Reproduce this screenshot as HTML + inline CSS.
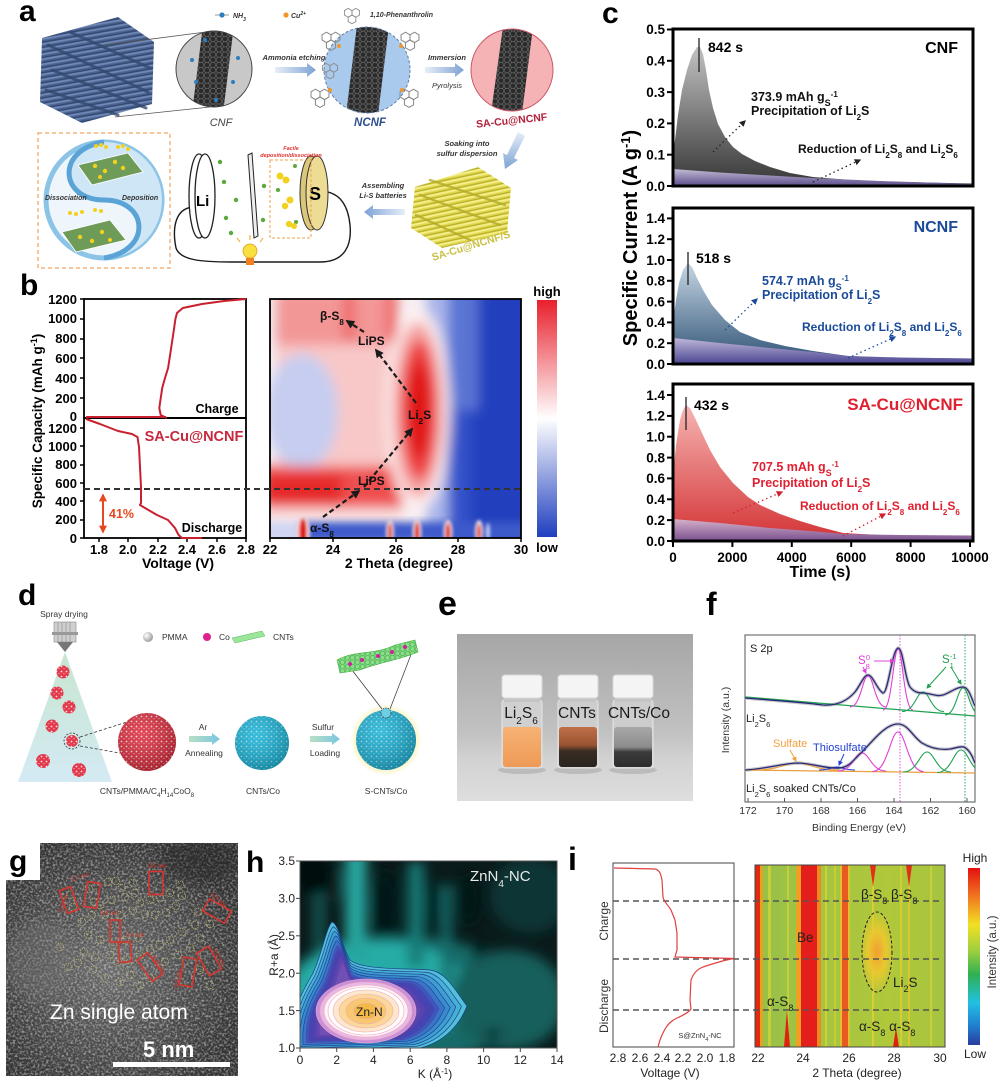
<!DOCTYPE html>
<html><head><meta charset="utf-8"><style>
html,body{margin:0;padding:0;background:#fff;overflow:hidden}
svg{display:block}
text{font-family:"Liberation Sans",Arial,sans-serif}
</style></head><body>
<svg xmlns="http://www.w3.org/2000/svg" width="999" height="1083" viewBox="0 0 999 1083">
<defs>
 <linearGradient id="gArr" x1="0" y1="0" x2="1" y2="0"><stop offset="0" stop-color="#e6eef8"/><stop offset="1" stop-color="#7ea2d4"/></linearGradient>
 <linearGradient id="gArrL" x1="1" y1="0" x2="0" y2="0"><stop offset="0" stop-color="#e6eef8"/><stop offset="1" stop-color="#7ea2d4"/></linearGradient>
 <linearGradient id="gArrD" x1="0" y1="0" x2="0" y2="1"><stop offset="0" stop-color="#e6eef8"/><stop offset="1" stop-color="#7ea2d4"/></linearGradient>
 <linearGradient id="gArrGB" x1="0" y1="0" x2="1" y2="0"><stop offset="0" stop-color="#b8dfc2"/><stop offset="1" stop-color="#7cc6e2"/></linearGradient>
 <pattern id="hex" width="6" height="5.2" patternUnits="userSpaceOnUse"><path d="M0,2.6 L1.5,0 L4.5,0 L6,2.6 L4.5,5.2 L1.5,5.2 Z" fill="none" stroke="#707070" stroke-width="0.6"/></pattern>
 <pattern id="hexG" width="5" height="4.4" patternUnits="userSpaceOnUse"><path d="M0,2.2 L1.25,0 L3.75,0 L5,2.2 L3.75,4.4 L1.25,4.4 Z" fill="none" stroke="#3f9f3f" stroke-width="0.5"/></pattern>
 <pattern id="fibB" width="12" height="5" patternUnits="userSpaceOnUse" patternTransform="rotate(-10)"><rect width="12" height="5" fill="#4b6391"/><rect y="0" width="12" height="1.7" fill="#7089b7"/><rect y="3.3" width="12" height="1.2" fill="#33486f"/></pattern>
 <pattern id="fibY" width="12" height="5" patternUnits="userSpaceOnUse" patternTransform="rotate(-12)"><rect width="12" height="5" fill="#e0d84e"/><rect y="0" width="12" height="1.7" fill="#f5f08e"/><rect y="3.3" width="12" height="1.2" fill="#b8ae2c"/></pattern>
 <pattern id="spk" width="5" height="5" patternUnits="userSpaceOnUse"><circle cx="1.5" cy="1.5" r="0.9" fill="#fff" opacity=".85"/><circle cx="4" cy="3.6" r="0.6" fill="#fff" opacity=".6"/></pattern>
 <radialGradient id="shade" cx="0.4" cy="0.35" r="0.7"><stop offset="0" stop-color="#fff" stop-opacity="0.15"/><stop offset="1" stop-color="#000" stop-opacity="0.25"/></radialGradient>
 <radialGradient id="glow" cx="0.5" cy="0.5" r="0.5"><stop offset="0.75" stop-color="#f8f0b0"/><stop offset="1" stop-color="#f8f0b0" stop-opacity="0"/></radialGradient>
 <radialGradient id="pmma" cx="0.35" cy="0.35" r="0.7"><stop offset="0" stop-color="#fff"/><stop offset="1" stop-color="#999"/></radialGradient>
 <linearGradient id="gTri" x1="0" y1="0" x2="0" y2="1"><stop offset="0" stop-color="#c6e6cf"/><stop offset="1" stop-color="#d4eaf4"/></linearGradient>
 <clipPath id="cCNF"><circle cx="214" cy="69" r="38"/></clipPath>
 <clipPath id="cNCNF"><circle cx="367" cy="70" r="43"/></clipPath>
 <clipPath id="cSA"><circle cx="512" cy="70" r="41"/></clipPath>
 <clipPath id="cHB"><rect x="270" y="299" width="251" height="239"/></clipPath>
 <clipPath id="cH"><rect x="300" y="861" width="257" height="187"/></clipPath>
 <clipPath id="cI"><rect x="755" y="865" width="190" height="182"/></clipPath>
 <clipPath id="cG"><rect x="6" y="843" width="232" height="233"/></clipPath>
 <clipPath id="cE"><rect x="457" y="634" width="236" height="167"/></clipPath>
 <clipPath id="cF"><rect x="745" y="635" width="230" height="167"/></clipPath>
 <filter id="bl6" x="-30%" y="-30%" width="160%" height="160%"><feGaussianBlur stdDeviation="6"/></filter>
 <filter id="bl4" x="-30%" y="-30%" width="160%" height="160%"><feGaussianBlur stdDeviation="4"/></filter>
 <filter id="bl2" x="-50%" y="-50%" width="200%" height="200%"><feGaussianBlur stdDeviation="1.5"/></filter>
 <filter id="grain" x="0" y="0" width="1" height="1"><feTurbulence type="fractalNoise" baseFrequency="0.45" numOctaves="2" seed="7"/><feColorMatrix type="matrix" values="0 0 0 0 1  0 0 0 0 1  0 0 0 0 1  3 0 0 0 -1.3"/></filter>
 <g id="phen" fill="none" stroke="#8a8a8a" stroke-width="0.8">
  <path d="M-6.9,-4 L-3.5,-6 L0,-4 L0,0 L-3.5,2 L-6.9,0 Z"/>
  <path d="M0,-4 L3.5,-6 L6.9,-4 L6.9,0 L3.5,2 L0,0 Z"/>
  <path d="M-3.5,2 L0,0 L3.5,2 L3.5,6 L0,8 L-3.5,6 Z"/>
 </g>
 <path id="blobP" d="M290,1052 L290,1050 C288,1020 300,995 312,975 C322,955 326,928 332,922 C339,924 341,945 350,960 C362,970 400,968 430,970 C446,972 455,990 467,1006 C460,1024 445,1042 420,1048 L290,1052 Z"/>
 <marker id="mk" viewBox="0 0 10 10" refX="8" refY="5" markerWidth="4" markerHeight="4" orient="auto"><path d="M0,0 L10,5 L0,10 Z" fill="#1a1a1a"/></marker>
 <marker id="mkB" viewBox="0 0 10 10" refX="8" refY="5" markerWidth="5" markerHeight="5" orient="auto"><path d="M0,0 L10,5 L0,10 Z" fill="#1a4a9a"/></marker>
 <marker id="mkR" viewBox="0 0 10 10" refX="8" refY="5" markerWidth="5" markerHeight="5" orient="auto"><path d="M0,0 L10,5 L0,10 Z" fill="#d02030"/></marker>
 <marker id="mkK" viewBox="0 0 10 10" refX="8" refY="5" markerWidth="5" markerHeight="5" orient="auto"><path d="M0,0 L10,5 L0,10 Z" fill="#222"/></marker>
 <marker id="mkO" viewBox="0 0 10 10" refX="8" refY="5" markerWidth="4" markerHeight="4" orient="auto-start-reverse"><path d="M0,0 L10,5 L0,10 Z" fill="#e84820"/></marker>
 <marker id="mkM" viewBox="0 0 10 10" refX="8" refY="5" markerWidth="5" markerHeight="5" orient="auto"><path d="M0,0 L10,5 L0,10 Z" fill="#e040d8"/></marker>
 <marker id="mkG" viewBox="0 0 10 10" refX="8" refY="5" markerWidth="5" markerHeight="5" orient="auto"><path d="M0,0 L10,5 L0,10 Z" fill="#20a050"/></marker>
 <marker id="mkOr" viewBox="0 0 10 10" refX="8" refY="5" markerWidth="5" markerHeight="5" orient="auto"><path d="M0,0 L10,5 L0,10 Z" fill="#f0a040"/></marker>
 <marker id="mkBl" viewBox="0 0 10 10" refX="8" refY="5" markerWidth="5" markerHeight="5" orient="auto"><path d="M0,0 L10,5 L0,10 Z" fill="#2040d0"/></marker>
 <linearGradient id="gCNF" gradientUnits="userSpaceOnUse" x1="0" y1="45" x2="0" y2="180"><stop offset="0" stop-color="#c4c4c4"/><stop offset="1" stop-color="#3c3c3c"/></linearGradient>
 <linearGradient id="gCNFb" gradientUnits="userSpaceOnUse" x1="0" y1="168" x2="0" y2="186"><stop offset="0" stop-color="#cac2da"/><stop offset="1" stop-color="#5a4c8a"/></linearGradient>
 <linearGradient id="gNC" gradientUnits="userSpaceOnUse" x1="0" y1="262" x2="0" y2="356"><stop offset="0" stop-color="#c8d8e4"/><stop offset="1" stop-color="#3a5c7e"/></linearGradient>
 <linearGradient id="gNCb" gradientUnits="userSpaceOnUse" x1="0" y1="337" x2="0" y2="364"><stop offset="0" stop-color="#c4bcdc"/><stop offset="1" stop-color="#4a4592"/></linearGradient>
 <linearGradient id="gSA" gradientUnits="userSpaceOnUse" x1="0" y1="404" x2="0" y2="532"><stop offset="0" stop-color="#f6b6b4"/><stop offset="1" stop-color="#d63c3e"/></linearGradient>
 <linearGradient id="gSAb" gradientUnits="userSpaceOnUse" x1="0" y1="518" x2="0" y2="541"><stop offset="0" stop-color="#dab6cc"/><stop offset="1" stop-color="#7a5090"/></linearGradient>
 <linearGradient id="gCbB" x1="0" y1="0" x2="0" y2="1"><stop offset="0" stop-color="#e8202c"/><stop offset="0.5" stop-color="#ffffff"/><stop offset="1" stop-color="#1f3fbf"/></linearGradient>
 <linearGradient id="gJet" x1="0" y1="0" x2="0" y2="1"><stop offset="0" stop-color="#e41010"/><stop offset="0.15" stop-color="#f07020"/><stop offset="0.32" stop-color="#f2e022"/><stop offset="0.47" stop-color="#9ccf40"/><stop offset="0.6" stop-color="#30b050"/><stop offset="0.76" stop-color="#22c0e2"/><stop offset="0.89" stop-color="#2080d0"/><stop offset="1" stop-color="#2a3c9e"/></linearGradient>
 <linearGradient id="gIbg" x1="0" y1="0" x2="1" y2="0"><stop offset="0" stop-color="#96c048"/><stop offset="0.3" stop-color="#a2c444"/><stop offset="0.7" stop-color="#b0c83a"/><stop offset="1" stop-color="#a6c440"/></linearGradient>
 <radialGradient id="gLi2S" cx="0.5" cy="0.5" r="0.5"><stop offset="0" stop-color="#f0a030"/><stop offset="0.5" stop-color="#e8c830"/><stop offset="1" stop-color="#e8c830" stop-opacity="0"/></radialGradient>
 <linearGradient id="gPhoto" x1="0" y1="0" x2="0" y2="1"><stop offset="0" stop-color="#a6a6a6"/><stop offset="0.6" stop-color="#c2c2c2"/><stop offset="0.75" stop-color="#d2d2d2"/><stop offset="1" stop-color="#dedede"/></linearGradient>
 <linearGradient id="gLiq2" x1="0" y1="0" x2="0" y2="1"><stop offset="0" stop-color="#c07048"/><stop offset="0.45" stop-color="#9a5432"/><stop offset="0.6" stop-color="#3a2c24"/><stop offset="1" stop-color="#2a2420"/></linearGradient>
 <linearGradient id="gLiq3" x1="0" y1="0" x2="0" y2="1"><stop offset="0" stop-color="#a8a8a8"/><stop offset="0.5" stop-color="#8c8c8c"/><stop offset="0.62" stop-color="#3c3c3c"/><stop offset="1" stop-color="#2c2c2c"/></linearGradient>
 <linearGradient id="gLiq1" x1="0" y1="0" x2="0" y2="1"><stop offset="0" stop-color="#f6b274"/><stop offset="1" stop-color="#ee9a56"/></linearGradient>
 <radialGradient id="gGimg" cx="0.45" cy="0.55" r="0.6"><stop offset="0" stop-color="#6a6a6a"/><stop offset="1" stop-color="#333"/></radialGradient>
</defs>

<rect width="999" height="1083" fill="#fff"/>

<!-- ================= PANEL A ================= -->
<text x="19" y="21" font-size="30" font-weight="bold">a</text>
<line x1="215" y1="15" x2="229" y2="15" stroke="#bbb" stroke-width="1.5"/>
<circle cx="222" cy="15" r="2.6" fill="#2c7fc0"/>
<text x="233" y="18" font-size="7" font-weight="bold" font-style="italic" fill="#333">NH<tspan font-size="5" baseline-shift="sub">3</tspan></text>
<circle cx="286" cy="15" r="2.6" fill="#f0962a"/>
<text x="291" y="18" font-size="7" font-weight="bold" font-style="italic" fill="#333">Cu<tspan font-size="5" baseline-shift="super">2+</tspan></text>
<use href="#phen" transform="translate(352,15) scale(1.1)"/>
<text x="370" y="17" font-size="7" font-weight="bold" font-style="italic" fill="#333">1,10-Phenanthrolin</text>

<polygon points="42,38 118,17 154,42 152,104 82,123 40,102" fill="url(#fibB)"/>
<g stroke="#34496f" stroke-width="3" stroke-linecap="round" opacity="0.8">
 <line x1="48" y1="45" x2="148" y2="92"/><line x1="52" y1="70" x2="146" y2="108"/><line x1="70" y1="32" x2="150" y2="68"/><line x1="46" y1="90" x2="118" y2="115"/>
</g>
<line x1="105" y1="45" x2="206" y2="32" stroke="#555" stroke-width="0.8"/>
<line x1="115" y1="117" x2="210" y2="107" stroke="#555" stroke-width="0.8"/>

<circle cx="214" cy="69" r="38" fill="#c8c8c8"/>
<g clip-path="url(#cCNF)"><polygon points="203,25 234,25 223,113 192,113" fill="#2a2a2a"/><polygon points="203,25 234,25 223,113 192,113" fill="url(#hex)"/></g>
<circle cx="214" cy="69" r="38" fill="none" stroke="#444" stroke-width="1"/>
<g fill="#2c7fc0"><circle cx="205" cy="40" r="2"/><circle cx="192" cy="60" r="2"/><circle cx="238" cy="58" r="2"/><circle cx="196" cy="82" r="2"/><circle cx="233" cy="82" r="2"/><circle cx="216" cy="100" r="2"/></g>
<text x="221" y="126" font-size="11" font-style="italic" fill="#444" text-anchor="middle">CNF</text>

<path d="M275,67 L307,67 L307,63 L316,70 L307,77 L307,73 L275,73 Z" fill="url(#gArr)"/>
<text x="294" y="60" font-size="7.5" font-weight="bold" font-style="italic" fill="#333" text-anchor="middle">Ammonia etching</text>

<circle cx="367" cy="70" r="43" fill="#a9caec"/>
<g clip-path="url(#cNCNF)"><polygon points="357,25 389,25 378,115 346,115" fill="#2a2a2a"/><polygon points="357,25 389,25 378,115 346,115" fill="url(#hex)"/></g>
<circle cx="367" cy="70" r="43" fill="none" stroke="#5f7fa8" stroke-width="1" stroke-dasharray="3,2"/>
<use href="#phen" transform="translate(331,40) scale(1.3)"/>
<use href="#phen" transform="translate(320,97) scale(1.3)"/>
<use href="#phen" transform="translate(410,40) scale(1.3)"/>
<use href="#phen" transform="translate(409,97) scale(1.3)"/>
<use href="#phen" transform="translate(330,70) scale(1.1)"/>
<g fill="#f0962a"><circle cx="339" cy="46" r="2"/><circle cx="330" cy="90" r="2"/><circle cx="401" cy="46" r="2"/><circle cx="402" cy="90" r="2"/></g>
<text x="370" y="126" font-size="11.5" font-weight="bold" font-style="italic" fill="#2f4f8f" text-anchor="middle">NCNF</text>

<path d="M425,67 L455,67 L455,63 L464,70 L455,77 L455,73 L425,73 Z" fill="url(#gArr)"/>
<text x="447" y="60" font-size="7.5" font-weight="bold" font-style="italic" fill="#333" text-anchor="middle">Immersion</text>
<text x="447" y="88" font-size="7.5" font-style="italic" fill="#333" text-anchor="middle">Pyrolysis</text>

<circle cx="512" cy="70" r="41" fill="#f6b3b5"/>
<g clip-path="url(#cSA)"><polygon points="503,27 533,27 522,113 491,113" fill="#2a2a2a"/><polygon points="503,27 533,27 522,113 491,113" fill="url(#hex)"/></g>
<circle cx="512" cy="70" r="41" fill="none" stroke="#cc5a6a" stroke-width="1"/>
<text transform="translate(512,124) rotate(-6)" font-size="10.5" font-weight="bold" fill="#b3203b" text-anchor="middle">SA-Cu@NCNF</text>

<path d="M518,132 L525,136 L514,158 L518,160 L505,169 L503,153 L507,155 Z" fill="url(#gArrD)"/>
<text x="467" y="146" font-size="7.5" font-weight="bold" font-style="italic" fill="#333" text-anchor="middle">Soaking into</text>
<text x="467" y="156" font-size="7.5" font-weight="bold" font-style="italic" fill="#333" text-anchor="middle">sulfur dispersion</text>

<polygon points="415,187 478,167 511,188 507,233 442,248 411,228" fill="url(#fibY)"/>
<g stroke="#b5ab2a" stroke-width="2.5" stroke-linecap="round" opacity="0.8"><line x1="420" y1="195" x2="500" y2="225"/><line x1="430" y1="180" x2="505" y2="205"/><line x1="416" y1="215" x2="470" y2="240"/></g>
<text transform="translate(472,249) rotate(-17)" font-size="10.5" font-weight="bold" fill="#c9c043" text-anchor="middle">SA-Cu@NCNF/S</text>

<path d="M405,209 L373,209 L373,205 L364,212 L373,219 L373,215 L405,215 Z" fill="url(#gArrL)"/>
<text x="383" y="188" font-size="7.5" font-weight="bold" font-style="italic" fill="#333" text-anchor="middle">Assembling</text>
<text x="383" y="198" font-size="7.5" font-weight="bold" font-style="italic" fill="#333" text-anchor="middle">Li-S batteries</text>

<path d="M195,207 C175,207 172,228 176,248 C180,260 200,262 232,262 L320,262 C345,262 352,245 350,225 C348,205 340,195 328,192" fill="none" stroke="#1a1a1a" stroke-width="1.4"/>
<ellipse cx="199" cy="196" rx="10" ry="42" fill="#fff" stroke="#222" stroke-width="1.3"/>
<ellipse cx="205" cy="196" rx="10" ry="42" fill="#fff" stroke="#222" stroke-width="1.3"/>
<text x="196" y="206" font-size="15" font-weight="bold">Li</text>
<polygon points="248,155 252,153 258,236 254,238" fill="#eee" stroke="#222" stroke-width="1"/>
<ellipse cx="311" cy="193" rx="11" ry="37" fill="#d9c77a" stroke="#333" stroke-width="1"/>
<ellipse cx="317" cy="193" rx="11" ry="37" fill="#ecdc94" stroke="#333" stroke-width="1"/>
<text x="309" y="200" font-size="18" font-weight="bold">S</text>
<rect x="270" y="160" width="41" height="78" fill="none" stroke="#f0a050" stroke-width="1" stroke-dasharray="3,2"/>
<text x="291" y="150" font-size="5.5" font-style="italic" font-weight="bold" fill="#e03030" text-anchor="middle">Facile</text>
<text x="291" y="157" font-size="5.5" font-style="italic" font-weight="bold" fill="#e03030" text-anchor="middle">deposition/dissociation</text>
<g fill="#5aa83a"><circle cx="220" cy="162" r="2.2"/><circle cx="224" cy="182" r="2.2"/><circle cx="236" cy="200" r="2.2"/><circle cx="226" cy="218" r="2.2"/><circle cx="231" cy="233" r="2.2"/><circle cx="264" cy="186" r="2.2"/><circle cx="263" cy="220" r="2.2"/><circle cx="295" cy="166" r="2"/><circle cx="278" cy="190" r="2"/><circle cx="296" cy="222" r="2"/></g>
<g fill="#f2d020"><circle cx="280" cy="176" r="3.5"/><circle cx="286" cy="180" r="3.5"/><circle cx="290" cy="200" r="3.5"/><circle cx="285" cy="206" r="3.2"/><circle cx="289" cy="224" r="3.2"/><circle cx="294" cy="226" r="3"/></g>
<circle cx="250" cy="251" r="7" fill="#f8e040" stroke="#e0a020" stroke-width="0.8"/>
<rect x="246" y="258" width="8" height="7" fill="#f08020"/>
<g stroke="#f0a020" stroke-width="1"><line x1="240" y1="242" x2="237" y2="238"/><line x1="260" y1="242" x2="263" y2="238"/><line x1="250" y1="240" x2="250" y2="235"/></g>

<rect x="38" y="133" width="132" height="135" fill="none" stroke="#f0a45a" stroke-width="1.2" stroke-dasharray="4,3"/>
<circle cx="104" cy="200" r="58" fill="#eef6fc" stroke="#8cc4e8" stroke-width="5"/>
<path d="M104,142 A58,58 0 0,1 104,258 C153,250 148,200 104,200 C60,200 55,150 104,142 Z" fill="#cfe6f6"/>
<path d="M104,142 C55,150 60,200 104,200 C148,200 153,250 104,258" fill="none" stroke="#5aa3d6" stroke-width="5"/>
<polygon points="78,165 128,153 143,172 92,185" fill="#6e9b58" stroke="#fff" stroke-width="0.8"/>
<polygon points="62,232 110,220 126,240 76,252" fill="#6e9b58" stroke="#fff" stroke-width="0.8"/>
<g fill="#f2d020"><circle cx="95" cy="166" r="2.2"/><circle cx="105" cy="171" r="2.2"/><circle cx="115" cy="162" r="2.2"/><circle cx="123" cy="168" r="2.2"/><circle cx="100" cy="177" r="2"/><circle cx="80" cy="237" r="2.2"/><circle cx="92" cy="241" r="2.2"/><circle cx="102" cy="232" r="2.2"/><circle cx="110" cy="240" r="2"/><circle cx="96" cy="146" r="2"/><circle cx="101" cy="145" r="2"/><circle cx="106" cy="147" r="2"/><circle cx="118" cy="147" r="2"/><circle cx="123" cy="146" r="2"/><circle cx="128" cy="149" r="2"/><circle cx="70" cy="213" r="2"/><circle cx="76" cy="214" r="2"/><circle cx="82" cy="212" r="2"/><circle cx="95" cy="210" r="2"/><circle cx="101" cy="211" r="2"/></g>
<text x="45" y="200" font-size="7" font-weight="bold" font-style="italic" fill="#333">Dissociation</text>
<text x="122" y="200" font-size="7" font-weight="bold" font-style="italic" fill="#333">Deposition</text>

<!-- ================= PANEL B ================= -->
<text x="20" y="295" font-size="30" font-weight="bold">b</text>
<rect x="84" y="299" width="162" height="239" fill="#fff" stroke="#000" stroke-width="1.8"/>
<line x1="84" y1="418" x2="246" y2="418" stroke="#000" stroke-width="2"/>
<g font-size="13" font-weight="bold" text-anchor="end">
 <text x="77" y="304">1200</text><text x="77" y="323">1000</text><text x="77" y="343">800</text><text x="77" y="363">600</text><text x="77" y="383">400</text><text x="77" y="403">200</text><text x="77" y="421">0</text>
 <text x="77" y="433">1200</text><text x="77" y="451">1000</text><text x="77" y="469">800</text><text x="77" y="488">600</text><text x="77" y="506">400</text><text x="77" y="524">200</text><text x="77" y="543">0</text>
</g>
<g stroke="#000" stroke-width="1.5">
 <line x1="80" y1="299" x2="84" y2="299"/><line x1="80" y1="319" x2="84" y2="319"/><line x1="80" y1="339" x2="84" y2="339"/><line x1="80" y1="358" x2="84" y2="358"/><line x1="80" y1="378" x2="84" y2="378"/><line x1="80" y1="398" x2="84" y2="398"/>
 <line x1="80" y1="428" x2="84" y2="428"/><line x1="80" y1="446" x2="84" y2="446"/><line x1="80" y1="465" x2="84" y2="465"/><line x1="80" y1="483" x2="84" y2="483"/><line x1="80" y1="501" x2="84" y2="501"/><line x1="80" y1="520" x2="84" y2="520"/><line x1="80" y1="538" x2="84" y2="538"/>
 <line x1="99" y1="538" x2="99" y2="542"/><line x1="128" y1="538" x2="128" y2="542"/><line x1="158" y1="538" x2="158" y2="542"/><line x1="187" y1="538" x2="187" y2="542"/><line x1="217" y1="538" x2="217" y2="542"/><line x1="246" y1="538" x2="246" y2="542"/>
</g>
<g font-size="13" font-weight="bold" text-anchor="middle">
 <text x="99" y="554">1.8</text><text x="128" y="554">2.0</text><text x="158" y="554">2.2</text><text x="187" y="554">2.4</text><text x="217" y="554">2.6</text><text x="246" y="554">2.8</text>
</g>
<text x="178" y="568" font-size="14" font-weight="bold" text-anchor="middle">Voltage (V)</text>
<text transform="translate(42,421) rotate(-90)" font-size="13.5" font-weight="bold" text-anchor="middle">Specific Capacity (mAh g<tspan font-size="9" baseline-shift="super">-1</tspan>)</text>
<line x1="86" y1="417" x2="166" y2="417" stroke="#c8202e" stroke-width="2"/>
<polyline points="166.6,418 160.7,415 159.3,408 162.2,388 165,378 168.1,368 171,349 174,329 175.4,319 177,313 182.8,308 202,304 224,301 246,299" fill="none" stroke="#c8202e" stroke-width="2" stroke-linejoin="round"/>
<polyline points="86,419 100,424 118,431 132,434 137.5,437 139,447 141,487 141,503 140,505 145,508 157,515 168,520 175,528 178.6,535 182,538 202,538" fill="none" stroke="#c8202e" stroke-width="2" stroke-linejoin="round"/>
<text x="217" y="413" font-size="12.5" font-weight="bold" text-anchor="middle">Charge</text>
<text x="212" y="532" font-size="12.5" font-weight="bold" text-anchor="middle">Discharge</text>
<text x="194" y="441" font-size="14.5" font-weight="bold" fill="#c8283c" text-anchor="middle">SA-Cu@NCNF</text>
<line x1="103" y1="495" x2="103" y2="532" stroke="#e84820" stroke-width="2" marker-start="url(#mkO)" marker-end="url(#mkO)"/>
<text x="109" y="518" font-size="12.5" font-weight="bold" fill="#e84820">41%</text>

<g clip-path="url(#cHB)">
 <rect x="270" y="299" width="251" height="239" fill="#f6eef2"/>
 <g filter="url(#bl6)">
  <rect x="440" y="280" width="100" height="280" fill="#3553c9"/>
  <rect x="470" y="280" width="70" height="280" fill="#2441bd"/>
  <rect x="448" y="290" width="30" height="120" fill="#5a74d4"/>
  <rect x="426" y="280" width="22" height="260" fill="#a9b5ea"/>
  <rect x="276" y="290" width="122" height="58" fill="#f39696"/>
  <rect x="344" y="290" width="10" height="50" fill="#ee6060"/>
  <rect x="386" y="290" width="10" height="50" fill="#ee6262"/>
  <rect x="276" y="345" width="122" height="125" fill="#f8c8c8"/>
  <ellipse cx="302" cy="412" rx="36" ry="58" fill="#c6cdf0"/>
  <rect x="262" y="466" width="140" height="44" fill="#ef5050"/>
  <rect x="262" y="474" width="80" height="30" fill="#e62a2a"/>
  <rect x="262" y="508" width="140" height="14" fill="#fadede"/>
  <ellipse cx="418" cy="410" rx="32" ry="102" fill="#fdf0f0"/>
  <ellipse cx="418" cy="410" rx="25" ry="88" fill="#f5a0a0"/>
  <ellipse cx="419" cy="410" rx="18" ry="70" fill="#ee3c3c"/>
  <ellipse cx="419" cy="410" rx="12" ry="48" fill="#e01414"/>
 </g>
 <g filter="url(#bl4)">
  <rect x="262" y="522" width="45" height="20" fill="#d0d6f2"/>
  <rect x="300" y="522" width="230" height="20" fill="#3d5acb"/>
 </g>
 <g filter="url(#bl2)">
  <ellipse cx="303" cy="532" rx="7" ry="16" fill="#fbe0e0"/><ellipse cx="303" cy="532" rx="4" ry="14" fill="#e01818"/>
  <ellipse cx="390" cy="532" rx="4" ry="12" fill="#fbe0e0"/><ellipse cx="390" cy="533" rx="2" ry="10" fill="#e01818"/>
  <ellipse cx="417" cy="532" rx="4.5" ry="13" fill="#fbe0e0"/><ellipse cx="417" cy="533" rx="2.5" ry="11" fill="#e01818"/>
  <ellipse cx="448" cy="532" rx="4.5" ry="12" fill="#fbe0e0"/><ellipse cx="448" cy="533" rx="2.5" ry="10" fill="#e01818"/>
  <ellipse cx="479" cy="532" rx="4" ry="12" fill="#fbe0e0"/><ellipse cx="479" cy="533" rx="2" ry="9" fill="#e01818"/>
  <ellipse cx="488" cy="532" rx="2" ry="9" fill="#c8d0f0"/>
 </g>
</g>
<rect x="270" y="299" width="251" height="239" fill="none" stroke="#000" stroke-width="1.8"/>
<g stroke="#000" stroke-width="1.5">
 <line x1="270" y1="538" x2="270" y2="542"/><line x1="333" y1="538" x2="333" y2="542"/><line x1="396" y1="538" x2="396" y2="542"/><line x1="458" y1="538" x2="458" y2="542"/><line x1="521" y1="538" x2="521" y2="542"/>
</g>
<g font-size="13" font-weight="bold" text-anchor="middle">
 <text x="270" y="554">22</text><text x="333" y="554">24</text><text x="396" y="554">26</text><text x="458" y="554">28</text><text x="521" y="554">30</text>
</g>
<text x="399" y="568" font-size="14" font-weight="bold" text-anchor="middle">2 Theta (degree)</text>
<line x1="84" y1="489" x2="521" y2="489" stroke="#333" stroke-width="2" stroke-dasharray="6,4"/>
<g stroke="#1a1a1a" stroke-width="2.2" stroke-dasharray="5,3" fill="none">
 <line x1="323" y1="517" x2="359" y2="491" marker-end="url(#mk)"/>
 <line x1="364" y1="487" x2="412" y2="429" marker-end="url(#mk)"/>
 <line x1="416" y1="403" x2="376" y2="350" marker-end="url(#mk)"/>
 <line x1="364" y1="332" x2="347" y2="321" marker-end="url(#mk)"/>
</g>
<g font-size="12" font-weight="bold" fill="#111">
 <text x="320" y="320">β-S<tspan font-size="8" baseline-shift="sub">8</tspan></text>
 <text x="358" y="345">LiPS</text>
 <text x="408" y="419">Li<tspan font-size="8" baseline-shift="sub">2</tspan>S</text>
 <text x="358" y="485">LiPS</text>
 <text x="310" y="532">α-S<tspan font-size="8" baseline-shift="sub">8</tspan></text>
</g>
<rect x="537" y="300" width="20" height="237" fill="url(#gCbB)"/>
<text x="547" y="296" font-size="13" font-weight="bold" text-anchor="middle">high</text>
<text x="547" y="552" font-size="13" font-weight="bold" text-anchor="middle">low</text>

<!-- ================= PANEL C ================= -->
<text x="602" y="23" font-size="30" font-weight="bold">c</text>
<text transform="translate(637,238) rotate(-90)" font-size="20" font-weight="bold" text-anchor="middle">Specific Current (A g<tspan font-size="13" baseline-shift="super">-1</tspan>)</text>

<path d="M673,186 L673,155 L675,140 L678,115 L682,90 L687,70 L692,55 L697,47 L700,47 L703,54 L706,70 L709,90 L713,108 L718,124 L725,137 L733,147 L742,154 L755,161 L770,167 L790,173 L813,177 L850,180 L900,182 L973,183.5 L973,186 Z" fill="url(#gCNF)"/>
<path d="M673,186 L673,169 L720,172.5 L770,175.5 L813,178 L880,181 L973,184 L973,186 Z" fill="url(#gCNFb)"/>
<rect x="673" y="29" width="300" height="157" fill="none" stroke="#000" stroke-width="3"/>
<line x1="699" y1="38" x2="699" y2="72" stroke="#222" stroke-width="1.3"/>
<text x="708" y="52" font-size="14" font-weight="bold">842 s</text>
<text x="958" y="53" font-size="16" font-weight="bold" text-anchor="end">CNF</text>
<g font-size="12.5" font-weight="bold" fill="#111">
 <text x="751" y="101">373.9 mAh g<tspan font-size="9" baseline-shift="sub">S</tspan><tspan font-size="8" baseline-shift="super">-1</tspan></text>
 <text x="751" y="115">Precipitation of Li<tspan font-size="8" baseline-shift="sub">2</tspan>S</text>
 <text x="798" y="153" font-size="12">Reduction of Li<tspan font-size="8" baseline-shift="sub">2</tspan>S<tspan font-size="8" baseline-shift="sub">8</tspan> and Li<tspan font-size="8" baseline-shift="sub">2</tspan>S<tspan font-size="8" baseline-shift="sub">6</tspan></text>
</g>
<line x1="713" y1="152" x2="745" y2="121" stroke="#222" stroke-width="1.3" stroke-dasharray="1.5,3" marker-end="url(#mkK)"/>
<line x1="813" y1="182" x2="860" y2="160" stroke="#222" stroke-width="1.3" stroke-dasharray="1.5,3" marker-end="url(#mkK)"/>

<path d="M673,364 L673,322 L676,300 L679,283 L683,270 L688,263 L692,267 L697,278 L703,290 L712,305 L725,320 L740,332 L760,340 L785,346 L813,351 L848,356 L900,358 L973,358.5 L973,364 Z" fill="url(#gNC)"/>
<path d="M673,364 L673,338 L720,343 L770,348 L813,352 L848,356 L900,357.5 L973,358.5 L973,364 Z" fill="url(#gNCb)"/>
<rect x="673" y="208" width="300" height="156" fill="none" stroke="#000" stroke-width="3"/>
<line x1="688" y1="252" x2="688" y2="285" stroke="#222" stroke-width="1.3"/>
<text x="696" y="263" font-size="14" font-weight="bold">518 s</text>
<text x="958" y="232" font-size="16" font-weight="bold" fill="#1a4a9a" text-anchor="end">NCNF</text>
<g font-size="12.5" font-weight="bold" fill="#1a4a9a">
 <text x="762" y="285">574.7 mAh g<tspan font-size="9" baseline-shift="sub">S</tspan><tspan font-size="8" baseline-shift="super">-1</tspan></text>
 <text x="762" y="299">Precipitation of Li<tspan font-size="8" baseline-shift="sub">2</tspan>S</text>
 <text x="802" y="331" font-size="12">Reduction of Li<tspan font-size="8" baseline-shift="sub">2</tspan>S<tspan font-size="8" baseline-shift="sub">8</tspan> and Li<tspan font-size="8" baseline-shift="sub">2</tspan>S<tspan font-size="8" baseline-shift="sub">6</tspan></text>
</g>
<line x1="725" y1="330" x2="757" y2="299" stroke="#1a4a9a" stroke-width="1.3" stroke-dasharray="1.5,3" marker-end="url(#mkB)"/>
<line x1="848" y1="358" x2="895" y2="337" stroke="#1a4a9a" stroke-width="1.3" stroke-dasharray="1.5,3" marker-end="url(#mkB)"/>

<path d="M673,541 L673,477 L676,445 L680,420 L683,410 L686,405 L690,408 L695,418 L702,433 L710,450 L720,467 L733,483 L748,497 L760,505 L780,514 L800,521 L820,527 L843,533 L880,535 L930,536 L973,536.5 L973,541 Z" fill="url(#gSA)"/>
<path d="M673,541 L673,519 L720,523 L770,528 L810,531 L843,534 L900,535 L973,535.5 L973,541 Z" fill="url(#gSAb)"/>
<rect x="673" y="384" width="300" height="157" fill="none" stroke="#000" stroke-width="3"/>
<line x1="686" y1="397" x2="686" y2="430" stroke="#222" stroke-width="1.3"/>
<text x="694" y="410" font-size="14" font-weight="bold">432 s</text>
<text x="963" y="410" font-size="17" font-weight="bold" fill="#e02030" text-anchor="end">SA-Cu@NCNF</text>
<g font-size="12.5" font-weight="bold" fill="#e02030">
 <text x="752" y="471">707.5 mAh g<tspan font-size="9" baseline-shift="sub">S</tspan><tspan font-size="8" baseline-shift="super">-1</tspan></text>
 <text x="752" y="487">Precipitation of Li<tspan font-size="8" baseline-shift="sub">2</tspan>S</text>
 <text x="800" y="510" font-size="12">Reduction of Li<tspan font-size="8" baseline-shift="sub">2</tspan>S<tspan font-size="8" baseline-shift="sub">8</tspan> and Li<tspan font-size="8" baseline-shift="sub">2</tspan>S<tspan font-size="8" baseline-shift="sub">6</tspan></text>
</g>
<line x1="733" y1="513" x2="782" y2="492" stroke="#d02030" stroke-width="1.3" stroke-dasharray="1.5,3" marker-end="url(#mkR)"/>
<line x1="843" y1="536" x2="885" y2="514" stroke="#d02030" stroke-width="1.3" stroke-dasharray="1.5,3" marker-end="url(#mkR)"/>

<g stroke="#000" stroke-width="2">
 <line x1="667" y1="29.5" x2="673" y2="29.5"/><line x1="667" y1="60.8" x2="673" y2="60.8"/><line x1="667" y1="92.1" x2="673" y2="92.1"/><line x1="667" y1="123.4" x2="673" y2="123.4"/><line x1="667" y1="154.7" x2="673" y2="154.7"/><line x1="667" y1="186" x2="673" y2="186"/>
 <line x1="667" y1="218.4" x2="673" y2="218.4"/><line x1="667" y1="239.2" x2="673" y2="239.2"/><line x1="667" y1="260" x2="673" y2="260"/><line x1="667" y1="280.8" x2="673" y2="280.8"/><line x1="667" y1="301.6" x2="673" y2="301.6"/><line x1="667" y1="322.4" x2="673" y2="322.4"/><line x1="667" y1="343.2" x2="673" y2="343.2"/><line x1="667" y1="364" x2="673" y2="364"/>
 <line x1="667" y1="395" x2="673" y2="395"/><line x1="667" y1="415.9" x2="673" y2="415.9"/><line x1="667" y1="436.7" x2="673" y2="436.7"/><line x1="667" y1="457.6" x2="673" y2="457.6"/><line x1="667" y1="478.4" x2="673" y2="478.4"/><line x1="667" y1="499.3" x2="673" y2="499.3"/><line x1="667" y1="520.1" x2="673" y2="520.1"/><line x1="667" y1="541" x2="673" y2="541"/>
 <line x1="732.4" y1="541" x2="732.4" y2="547"/><line x1="791.8" y1="541" x2="791.8" y2="547"/><line x1="851.2" y1="541" x2="851.2" y2="547"/><line x1="910.6" y1="541" x2="910.6" y2="547"/><line x1="970" y1="541" x2="970" y2="547"/><line x1="673" y1="541" x2="673" y2="547"/>
</g>
<g font-size="13.5" font-weight="bold" text-anchor="end">
 <text x="665" y="34">0.5</text><text x="665" y="65.5">0.4</text><text x="665" y="97">0.3</text><text x="665" y="128">0.2</text><text x="665" y="159.5">0.1</text><text x="665" y="191">0.0</text>
 <text x="665" y="223">1.4</text><text x="665" y="244">1.2</text><text x="665" y="265">1.0</text><text x="665" y="285.5">0.8</text><text x="665" y="306.5">0.6</text><text x="665" y="327">0.4</text><text x="665" y="348">0.2</text><text x="665" y="369">0.0</text>
 <text x="665" y="400">1.4</text><text x="665" y="420.5">1.2</text><text x="665" y="441.5">1.0</text><text x="665" y="462.5">0.8</text><text x="665" y="483">0.6</text><text x="665" y="504">0.4</text><text x="665" y="525">0.2</text><text x="665" y="546">0.0</text>
</g>
<g font-size="13.5" font-weight="bold" text-anchor="middle">
 <text x="673" y="562">0</text><text x="732.4" y="562">2000</text><text x="791.8" y="562">4000</text><text x="851.2" y="562">6000</text><text x="910.6" y="562">8000</text><text x="970" y="562">10000</text>
</g>
<text x="820" y="577" font-size="16" font-weight="bold" text-anchor="middle">Time (s)</text>

<!-- ================= PANEL D ================= -->
<text x="18" y="605" font-size="30" font-weight="bold">d</text>
<text x="64" y="617" font-size="8.5" fill="#333" text-anchor="middle">Spray drying</text>
<polygon points="65,652 18,782 112,782" fill="url(#gTri)"/>
<rect x="54" y="622" width="22" height="20" fill="#cfcfcf" stroke="#888" stroke-width="0.6"/>
<g stroke="#999" stroke-width="0.8"><line x1="58" y1="622" x2="58" y2="642"/><line x1="62" y1="622" x2="62" y2="642"/><line x1="66" y1="622" x2="66" y2="642"/><line x1="70" y1="622" x2="70" y2="642"/></g>
<rect x="52" y="632" width="26" height="3" fill="#999"/>
<polygon points="57,642 73,642 65,652" fill="#777"/>
<g>
 <circle cx="63" cy="672" r="6.5" fill="#e23a4c"/><circle cx="57" cy="693" r="6.5" fill="#e23a4c"/><circle cx="69" cy="707" r="6.5" fill="#e23a4c"/><circle cx="52" cy="726" r="6.5" fill="#e23a4c"/><circle cx="72" cy="741" r="6" fill="#e23a4c"/><circle cx="43" cy="761" r="7" fill="#e23a4c"/><circle cx="79" cy="770" r="7" fill="#e23a4c"/>
 <g fill="url(#spk)"><circle cx="63" cy="672" r="6.5"/><circle cx="57" cy="693" r="6.5"/><circle cx="69" cy="707" r="6.5"/><circle cx="52" cy="726" r="6.5"/><circle cx="72" cy="741" r="6"/><circle cx="43" cy="761" r="7"/><circle cx="79" cy="770" r="7"/></g>
</g>
<circle cx="72" cy="741" r="8" fill="none" stroke="#333" stroke-width="0.8" stroke-dasharray="2,1.5"/>
<line x1="80" y1="737" x2="127" y2="722" stroke="#333" stroke-width="0.8" stroke-dasharray="3,2"/>
<line x1="80" y1="746" x2="125" y2="754" stroke="#333" stroke-width="0.8" stroke-dasharray="3,2"/>
<circle cx="148" cy="637" r="5" fill="url(#pmma)"/>
<text x="162" y="640" font-size="8.5" fill="#333">PMMA</text>
<circle cx="207" cy="637" r="4" fill="#e0208c"/>
<text x="219" y="640" font-size="8.5" fill="#333">Co</text>
<polygon points="232,638 262,631 265,636 235,643" fill="#9be69b" stroke="#5cb85c" stroke-width="0.5"/>
<text x="273" y="640" font-size="8.5" fill="#333">CNTs</text>
<circle cx="147" cy="742" r="29" fill="#dc2a3c"/>
<circle cx="147" cy="742" r="29" fill="url(#spk)"/>
<circle cx="147" cy="742" r="29" fill="url(#shade)"/>
<text x="203" y="730" font-size="8.5" fill="#333" text-anchor="middle">Ar</text>
<path d="M189,736 L212,736 L212,733 L220,739 L212,745 L212,742 L189,742 Z" fill="url(#gArrGB)"/>
<text x="204" y="756" font-size="8.5" fill="#333" text-anchor="middle">Annealing</text>
<circle cx="262" cy="743" r="27" fill="#16b2d6"/>
<circle cx="262" cy="743" r="27" fill="url(#spk)" opacity="0.7"/>
<circle cx="262" cy="743" r="27" fill="url(#shade)"/>
<text x="323" y="730" font-size="8.5" fill="#333" text-anchor="middle">Sulfur</text>
<path d="M310,736 L332,736 L332,733 L340,739 L332,745 L332,742 L310,742 Z" fill="url(#gArrGB)"/>
<text x="325" y="756" font-size="8.5" fill="#333" text-anchor="middle">Loading</text>
<circle cx="386" cy="740" r="36" fill="url(#glow)"/>
<circle cx="386" cy="740" r="30" fill="#18b0d4"/>
<circle cx="386" cy="740" r="30" fill="url(#spk)" opacity="0.7"/>
<circle cx="386" cy="740" r="30" fill="url(#shade)"/>
<circle cx="386" cy="713" r="5" fill="#6ccfe4" stroke="#333" stroke-width="0.7" stroke-dasharray="1.5,1"/>
<line x1="352" y1="670" x2="382" y2="709" stroke="#333" stroke-width="0.7"/>
<line x1="412" y1="652" x2="390" y2="709" stroke="#333" stroke-width="0.7"/>
<path d="M337,660 C355,650 375,655 395,645 L415,640 L418,652 C400,660 380,662 360,670 L340,673 Z" fill="#8ae08a" stroke="#4cb04c" stroke-width="0.6"/>
<path d="M337,660 C355,650 375,655 395,645 L415,640 L418,652 C400,660 380,662 360,670 L340,673 Z" fill="url(#hexG)"/>
<g fill="#d020a0"><circle cx="350" cy="664" r="2"/><circle cx="362" cy="660" r="2"/><circle cx="378" cy="656" r="2"/><circle cx="392" cy="652" r="2"/><circle cx="405" cy="647" r="2"/></g>
<g font-size="8.5" fill="#333" text-anchor="middle">
 <text x="147" y="794">CNTs/PMMA/C<tspan font-size="6" baseline-shift="sub">4</tspan>H<tspan font-size="6" baseline-shift="sub">14</tspan>CoO<tspan font-size="6" baseline-shift="sub">8</tspan></text>
 <text x="263" y="794">CNTs/Co</text>
 <text x="386" y="794">S-CNTs/Co</text>
</g>

<!-- ================= PANEL E ================= -->
<text x="438" y="615" font-size="34" font-weight="bold">e</text>
<g clip-path="url(#cE)">
 <rect x="457" y="634" width="236" height="167" fill="url(#gPhoto)"/>
 <ellipse cx="522" cy="770" rx="24" ry="4" fill="#bbb"/><ellipse cx="578" cy="770" rx="24" ry="4" fill="#bbb"/><ellipse cx="633" cy="770" rx="24" ry="4" fill="#bbb"/>
 <rect x="502" y="700" width="40" height="68" rx="3" fill="#d0d0d0" stroke="#e6e6e6"/>
 <rect x="503" y="727" width="38" height="40" rx="3" fill="url(#gLiq1)"/>
 <rect x="504" y="697" width="36" height="5" fill="#c4c4c4"/>
 <rect x="502" y="675" width="40" height="23" rx="3" fill="#f4f4f4" stroke="#d8d8d8"/>
 <rect x="558" y="700" width="40" height="68" rx="3" fill="#cdcdcd" stroke="#e6e6e6"/>
 <rect x="559" y="727" width="38" height="40" rx="3" fill="url(#gLiq2)"/>
 <rect x="560" y="697" width="36" height="5" fill="#c4c4c4"/>
 <rect x="558" y="675" width="40" height="23" rx="3" fill="#f4f4f4" stroke="#d8d8d8"/>
 <rect x="613" y="700" width="40" height="68" rx="3" fill="#cdcdcd" stroke="#e6e6e6"/>
 <rect x="614" y="727" width="38" height="40" rx="3" fill="url(#gLiq3)"/>
 <rect x="615" y="697" width="36" height="5" fill="#c4c4c4"/>
 <rect x="613" y="675" width="40" height="23" rx="3" fill="#f4f4f4" stroke="#d8d8d8"/>
 <g font-size="15.5" fill="#1a1a1a" text-anchor="middle">
  <text x="521" y="718">Li<tspan font-size="10" baseline-shift="sub">2</tspan>S<tspan font-size="10" baseline-shift="sub">6</tspan></text>
  <text x="577" y="718">CNTs</text>
  <text x="639" y="718">CNTs/Co</text>
 </g>
</g>

<!-- ================= PANEL F ================= -->
<text x="706" y="615" font-size="32" font-weight="bold">f</text>
<rect x="745" y="635" width="230" height="167" fill="#fff" stroke="#555" stroke-width="1"/>
<g clip-path="url(#cF)">
 <line x1="900" y1="635" x2="900" y2="802" stroke="#e050e0" stroke-width="1" stroke-dasharray="1.5,1.5"/>
 <line x1="965" y1="635" x2="965" y2="802" stroke="#30a060" stroke-width="1" stroke-dasharray="1.5,1.5"/>
 <path d="M745,698 C770,700 800,702 823,705 C838,706 848,700 855,692 C861,684 864,675 868,675 C873,675 877,690 883,693 C888,694 892,650 898,648 C903,647 905,680 910,687 C914,692 918,693 923,693 C930,693 936,697 943,695 C950,693 956,687 963,687 C969,687 972,700 975,706" fill="none" stroke="#c8c8c8" stroke-width="3.5"/>
 <line x1="745" y1="697" x2="975" y2="716" stroke="#20a050" stroke-width="1.2"/>
 <g fill="none" stroke-width="1.1">
  <path d="M850,707 C860.8,707 862.6,676 868,676 C873.4,676 875.2,707 886,707" stroke="#e040d8"/>
  <path d="M883,710 C892,710 893.5,649 898,649 C902.5,649 904,710 913,710" stroke="#e040d8"/>
  <path d="M902,711.5 C914.6,711.5 916.7,692 923,692 C929.3,692 931.4,711.5 944,711.5" stroke="#20a050"/>
  <path d="M945,715 C955.8,715 957.6,688 963,688 C968.4,688 970.2,715 981,715" stroke="#20a050"/>
 </g>
 <path d="M745,698 C770,700 800,702 823,705 C838,706 848,700 855,692 C861,684 864,675 868,675 C873,675 877,690 883,693 C888,694 892,650 898,648 C903,647 905,680 910,687 C914,692 918,693 923,693 C930,693 936,697 943,695 C950,693 956,687 963,687 C969,687 972,700 975,706" fill="none" stroke="#2a2a7a" stroke-width="1.3"/>
 <path d="M745,770 C765,769 780,764 797,763 C812,763 825,769 840,768 C850,767 855,758 862,752 C872,742 885,724 898,724 C908,724 913,737 922,743 C932,749 942,750 950,749 C956,748 960,746 964,747 C970,750 973,758 975,763" fill="none" stroke="#c8c8c8" stroke-width="3.5"/>
 <line x1="745" y1="770" x2="975" y2="773" stroke="#e8a040" stroke-width="1.2"/>
 <g fill="none" stroke-width="1.1">
  <path d="M755,770 C780.2,770 784.4,763 797,763 C809.6,763 813.8,770 839,770" stroke="#f0a040"/>
  <path d="M819,770 C829.8,770 831.6,767 837,767 C842.4,767 844.2,770 855,770" stroke="#2040d0"/>
  <path d="M838,771 C852.4,771 854.8,753 862,753 C869.2,753 871.6,771 886,771" stroke="#e040d8"/>
  <path d="M872.5,771.5 C887.8,771.5 890.4,732 898,732 C905.6,732 908.2,771.5 923.5,771.5" stroke="#e040d8"/>
  <path d="M903,772 C917.4,772 919.8,752 927,752 C934.2,752 936.6,772 951,772" stroke="#20a050"/>
  <path d="M937,772.5 C951.4,772.5 953.8,750 961,750 C968.2,750 970.6,772.5 985,772.5" stroke="#20a050"/>
 </g>
 <path d="M745,770 C765,769 780,764 797,763 C812,763 825,769 840,768 C850,767 855,758 862,752 C872,742 885,724 898,724 C908,724 913,737 922,743 C932,749 942,750 950,749 C956,748 960,746 964,747 C970,750 973,758 975,763" fill="none" stroke="#2a2a7a" stroke-width="1.3"/>
</g>
<g font-size="11" fill="#222">
 <text x="750" y="652">S 2p</text>
 <text x="746" y="722">Li<tspan font-size="7.5" baseline-shift="sub">2</tspan>S<tspan font-size="7.5" baseline-shift="sub">6</tspan></text>
 <text x="746" y="792">Li<tspan font-size="7.5" baseline-shift="sub">2</tspan>S<tspan font-size="7.5" baseline-shift="sub">6</tspan> soaked CNTs/Co</text>
</g>
<text x="858" y="664" font-size="11.5" fill="#e040d8">S<tspan font-size="7.5" baseline-shift="sub">8</tspan><tspan font-size="7.5" dx="-4" baseline-shift="super">0</tspan></text>
<line x1="874" y1="661" x2="894" y2="661" stroke="#e040d8" stroke-width="1" marker-end="url(#mkM)"/>
<line x1="863" y1="667" x2="866" y2="673" stroke="#e040d8" stroke-width="1" marker-end="url(#mkM)"/>
<text x="942" y="663" font-size="11.5" fill="#20a050">S<tspan font-size="7.5" baseline-shift="sub">1</tspan><tspan font-size="7.5" dx="-4" baseline-shift="super">-1</tspan></text>
<line x1="946" y1="667" x2="927" y2="688" stroke="#20a050" stroke-width="1" marker-end="url(#mkG)"/>
<line x1="951" y1="667" x2="961" y2="684" stroke="#20a050" stroke-width="1" marker-end="url(#mkG)"/>
<text x="773" y="747" font-size="11" fill="#f0a040">Sulfate</text>
<line x1="790" y1="750" x2="796" y2="761" stroke="#f0a040" stroke-width="1" marker-end="url(#mkOr)"/>
<text x="813" y="751" font-size="11" fill="#2040d0">Thiosulfate</text>
<line x1="844" y1="754" x2="839" y2="765" stroke="#2040d0" stroke-width="1" marker-end="url(#mkBl)"/>
<g stroke="#555" stroke-width="1">
 <line x1="748" y1="802" x2="748" y2="798"/><line x1="784.5" y1="802" x2="784.5" y2="798"/><line x1="821" y1="802" x2="821" y2="798"/><line x1="857.5" y1="802" x2="857.5" y2="798"/><line x1="894" y1="802" x2="894" y2="798"/><line x1="930.5" y1="802" x2="930.5" y2="798"/><line x1="967" y1="802" x2="967" y2="798"/>
</g>
<g font-size="10.5" fill="#333" text-anchor="middle">
 <text x="748" y="814">172</text><text x="784.5" y="814">170</text><text x="821" y="814">168</text><text x="857.5" y="814">166</text><text x="894" y="814">164</text><text x="930.5" y="814">162</text><text x="967" y="814">160</text>
</g>
<text x="859" y="831" font-size="10.5" fill="#333" text-anchor="middle">Binding Energy (eV)</text>
<text transform="translate(729,720) rotate(-90)" font-size="10.5" fill="#333" text-anchor="middle">Intensity (a.u.)</text>

<!-- ================= PANEL G ================= -->
<g clip-path="url(#cG)">
 <rect x="6" y="843" width="232" height="233" fill="url(#gGimg)"/>
 <rect x="6" y="843" width="232" height="233" filter="url(#grain)" opacity="0.45"/>
 <ellipse cx="200" cy="860" rx="40" ry="25" fill="#222" opacity="0.4" filter="url(#bl6)"/>
 <ellipse cx="40" cy="960" rx="35" ry="40" fill="#777" opacity="0.35" filter="url(#bl6)"/>
</g>
<rect x="6" y="843" width="34" height="37" fill="#fff"/>
<text x="9" y="871" font-size="30" font-weight="bold">g</text>
<g fill="none" stroke="#c8c070" stroke-width="0.7" stroke-dasharray="1.2,1">
 <circle cx="70" cy="895" r="3.8"/><circle cx="73" cy="907" r="3.8"/><circle cx="89" cy="889" r="3.8"/><circle cx="94" cy="902" r="3.8"/><circle cx="108" cy="882" r="3.8"/><circle cx="116" cy="881" r="3.8"/><circle cx="122" cy="888" r="3.8"/><circle cx="133" cy="883" r="3.8"/><circle cx="135" cy="893" r="3.8"/><circle cx="100" cy="905" r="3.8"/><circle cx="112" cy="900" r="3.8"/><circle cx="125" cy="897" r="3.8"/><circle cx="140" cy="903" r="3.8"/><circle cx="150" cy="900" r="3.8"/><circle cx="160" cy="898" r="3.8"/><circle cx="170" cy="893" r="3.8"/><circle cx="180" cy="885" r="3.8"/><circle cx="182" cy="896" r="3.8"/><circle cx="176" cy="906" r="3.8"/><circle cx="166" cy="912" r="3.8"/><circle cx="155" cy="915" r="3.8"/><circle cx="145" cy="914" r="3.8"/><circle cx="133" cy="911" r="3.8"/><circle cx="120" cy="915" r="3.8"/><circle cx="105" cy="915" r="3.8"/><circle cx="92" cy="915" r="3.8"/><circle cx="82" cy="922" r="3.8"/><circle cx="88" cy="935" r="3.8"/><circle cx="100" cy="940" r="3.8"/><circle cx="84" cy="952" r="3.8"/><circle cx="95" cy="957" r="3.8"/><circle cx="78" cy="963" r="3.8"/><circle cx="68" cy="967" r="3.8"/><circle cx="60" cy="947" r="3.8"/><circle cx="110" cy="955" r="3.8"/><circle cx="118" cy="962" r="3.8"/><circle cx="128" cy="960" r="3.8"/><circle cx="140" cy="955" r="3.8"/><circle cx="150" cy="950" r="3.8"/><circle cx="160" cy="945" r="3.8"/><circle cx="170" cy="940" r="3.8"/><circle cx="182" cy="932" r="3.8"/><circle cx="195" cy="925" r="3.8"/><circle cx="200" cy="938" r="3.8"/><circle cx="190" cy="948" r="3.8"/><circle cx="178" cy="955" r="3.8"/><circle cx="165" cy="962" r="3.8"/><circle cx="150" cy="978" r="3.8"/><circle cx="140" cy="985" r="3.8"/><circle cx="130" cy="975" r="3.8"/><circle cx="120" cy="982" r="3.8"/><circle cx="105" cy="978" r="3.8"/><circle cx="93" cy="970" r="3.8"/><circle cx="210" cy="985" r="3.8"/><circle cx="200" cy="970" r="3.8"/><circle cx="113" cy="945" r="3.8"/><circle cx="125" cy="940" r="3.8"/><circle cx="138" cy="938" r="3.8"/><circle cx="210" cy="924" r="3.8"/><circle cx="198" cy="912" r="3.8"/>
</g>
<g fill="none" stroke="#d8352e" stroke-width="1.6">
 <rect x="-6" y="-12" width="12" height="24" transform="translate(69,900) rotate(-20)"/>
 <rect x="-6.5" y="-12.5" width="13" height="25" transform="translate(92,895) rotate(10)"/>
 <rect x="-7" y="-11.5" width="14" height="23" transform="translate(156,883)"/>
 <rect x="-7" y="-12.5" width="14" height="25" transform="translate(217,911) rotate(-60)"/>
 <rect x="-5" y="-11" width="10" height="22" transform="translate(115,931)"/>
 <rect x="-6" y="-10" width="12" height="20" transform="translate(125,952) rotate(-5)"/>
 <rect x="-6.5" y="-13" width="13" height="26" transform="translate(150,967) rotate(-35)"/>
 <rect x="-6.5" y="-14" width="13" height="28" transform="translate(188,972) rotate(10)"/>
 <rect x="-7" y="-13" width="14" height="26" transform="translate(209,961) rotate(-30)"/>
</g>
<g font-size="6" fill="#d8352e">
 <text x="148" y="868">0.5 nm</text>
 <text transform="translate(72,882) rotate(-20)">0.7 nm</text>
 <text transform="translate(62,912) rotate(-70)">0.8 nm</text>
 <text transform="translate(210,895) rotate(40)">0.5 nm</text>
 <text x="100" y="915">0.4 nm</text>
 <text x="126" y="937">0.4 nm</text>
 <text transform="translate(152,957) rotate(60)">0.6 nm</text>
 <text transform="translate(178,988) rotate(-80)">0.8 nm</text>
 <text transform="translate(213,950) rotate(60)">0.6 nm</text>
</g>
<text x="50" y="1019" font-size="21" fill="#fff">Zn single atom</text>
<text x="143" y="1057" font-size="22" font-weight="bold" fill="#fff">5 nm</text>
<rect x="113" y="1062" width="117" height="5" fill="#fff"/>

<!-- ================= PANEL H ================= -->
<text x="246" y="872" font-size="30" font-weight="bold">h</text>
<g clip-path="url(#cH)">
 <rect x="300" y="861" width="257" height="187" fill="#0a1b1b"/>
 <g filter="url(#bl6)">
  <ellipse cx="400" cy="1000" rx="125" ry="65" fill="#136a68"/>
  <ellipse cx="380" cy="992" rx="88" ry="52" fill="#28aca6"/>
  <rect x="345" y="850" width="22" height="110" fill="#26a49e"/>
  <rect x="314" y="862" width="10" height="90" fill="#125e5c"/>
  <rect x="408" y="862" width="16" height="105" fill="#177a76"/>
  <rect x="441" y="885" width="11" height="100" fill="#146c6a"/>
  <ellipse cx="508" cy="1000" rx="58" ry="50" fill="#125e5c"/>
  <ellipse cx="530" cy="895" rx="40" ry="38" fill="#0c3434"/>
  <ellipse cx="312" cy="872" rx="18" ry="24" fill="#040c0c"/>
  <ellipse cx="334" cy="885" rx="6" ry="18" fill="#071a1a"/>
  <ellipse cx="386" cy="905" rx="12" ry="36" fill="#051414"/>
  <ellipse cx="433" cy="905" rx="7" ry="24" fill="#061616"/>
  <ellipse cx="470" cy="900" rx="11" ry="26" fill="#061616"/>
  <ellipse cx="478" cy="950" rx="5" ry="10" fill="#040c0c"/>
  <ellipse cx="493" cy="1034" rx="9" ry="4" fill="#040c0c"/>
 </g>
 <g stroke="#1a3d8a" stroke-width="0.7">
  <use href="#blobP" fill="#52c0d8"/>
  <use href="#blobP" transform="translate(355,1015) scale(0.95) translate(-355,-1015)" fill="#48b0d6"/>
  <use href="#blobP" transform="translate(355,1015) scale(0.90) translate(-355,-1015)" fill="#3f9ed2"/>
  <use href="#blobP" transform="translate(355,1015) scale(0.85) translate(-355,-1015)" fill="#3a8ace"/>
  <use href="#blobP" transform="translate(355,1015) scale(0.80) translate(-355,-1015)" fill="#3a74c6"/>
 </g>
 <g stroke="#5a3aa0" stroke-width="0.6">
  <use href="#blobP" transform="translate(355,1015) scale(0.75) translate(-355,-1015)" fill="#3d58bc"/>
  <use href="#blobP" transform="translate(355,1015) scale(0.71) translate(-355,-1015)" fill="#4048b4"/>
  <use href="#blobP" transform="translate(355,1015) scale(0.67) translate(-355,-1015)" fill="#4a42b2"/>
  <use href="#blobP" transform="translate(355,1015) scale(0.63) translate(-355,-1015)" fill="#5644b0"/>
  <use href="#blobP" transform="translate(355,1015) scale(0.59) translate(-355,-1015)" fill="#6248b0"/>
  <use href="#blobP" transform="translate(355,1015) scale(0.55) translate(-355,-1015)" fill="#7050b4"/>
 </g>
 <g stroke="#f0a8c0" stroke-width="0.6">
  <ellipse cx="366" cy="1011" rx="50" ry="32" fill="#c890d8"/>
  <ellipse cx="366" cy="1011" rx="46" ry="29" fill="#e8b8e4"/>
  <ellipse cx="366" cy="1011" rx="42" ry="26" fill="#fff2f6"/>
  <ellipse cx="366" cy="1011" rx="38" ry="24" fill="#ffffff"/>
  <ellipse cx="366" cy="1011" rx="33" ry="21" fill="#fde8cc"/>
  <ellipse cx="366" cy="1011" rx="27" ry="17" fill="#fbd898"/>
  <ellipse cx="366" cy="1011" rx="20" ry="13" fill="#f7c870"/>
  <ellipse cx="366" cy="1011" rx="12" ry="8" fill="#f2b848"/>
 </g>
</g>
<rect x="300" y="861" width="257" height="187" fill="none" stroke="#555" stroke-width="1"/>
<g stroke="#444" stroke-width="1">
 <line x1="296" y1="861" x2="300" y2="861"/><line x1="296" y1="898.4" x2="300" y2="898.4"/><line x1="296" y1="935.8" x2="300" y2="935.8"/><line x1="296" y1="973.2" x2="300" y2="973.2"/><line x1="296" y1="1010.6" x2="300" y2="1010.6"/><line x1="296" y1="1048" x2="300" y2="1048"/>
 <line x1="300" y1="1048" x2="300" y2="1052"/><line x1="336.7" y1="1048" x2="336.7" y2="1052"/><line x1="373.4" y1="1048" x2="373.4" y2="1052"/><line x1="410.2" y1="1048" x2="410.2" y2="1052"/><line x1="446.9" y1="1048" x2="446.9" y2="1052"/><line x1="483.6" y1="1048" x2="483.6" y2="1052"/><line x1="520.3" y1="1048" x2="520.3" y2="1052"/><line x1="557" y1="1048" x2="557" y2="1052"/>
</g>
<g font-size="12" fill="#222" text-anchor="end">
 <text x="295" y="865">3.5</text><text x="295" y="902.5">3.0</text><text x="295" y="940">2.5</text><text x="295" y="977.5">2.0</text><text x="295" y="1015">1.5</text><text x="295" y="1052">1.0</text>
</g>
<g font-size="12" fill="#222" text-anchor="middle">
 <text x="300" y="1064">0</text><text x="336.7" y="1064">2</text><text x="373.4" y="1064">4</text><text x="410.2" y="1064">6</text><text x="446.9" y="1064">8</text><text x="483.6" y="1064">10</text><text x="520.3" y="1064">12</text><text x="557" y="1064">14</text>
</g>
<text x="435" y="1078" font-size="12" fill="#222" text-anchor="middle">K (Å<tspan font-size="8" baseline-shift="super">-1</tspan>)</text>
<text transform="translate(278,955) rotate(-90)" font-size="12" fill="#222" text-anchor="middle">R+a (Å)</text>
<text x="470" y="881" font-size="15" fill="#eaeaea">ZnN<tspan font-size="10" baseline-shift="sub">4</tspan>-NC</text>
<text x="356" y="1016" font-size="12" fill="#222">Zn-N</text>

<!-- ================= PANEL I ================= -->
<text x="568" y="870" font-size="32" font-weight="bold">i</text>
<rect x="613" y="863" width="121" height="184" fill="#fff" stroke="#444" stroke-width="1"/>
<g clip-path="url(#cI)">
 <rect x="755" y="865" width="190" height="182" fill="url(#gIbg)"/>
 <rect x="755" y="865" width="5" height="182" fill="#e02a10"/>
 <rect x="760" y="865" width="3" height="182" fill="#e8a020"/>
 <rect x="768" y="865" width="3" height="182" fill="#c8d038"/>
 <rect x="787" y="865" width="2" height="182" fill="#c4d034"/>
 <rect x="796" y="865" width="6" height="182" fill="#f0a020"/>
 <rect x="801" y="865" width="17" height="182" fill="#e41e1a"/>
 <rect x="817" y="865" width="4" height="182" fill="#f08820"/>
 <rect x="825" y="865" width="2" height="182" fill="#d0d030"/>
 <rect x="834" y="865" width="2" height="182" fill="#cccc30"/>
 <rect x="840" y="865" width="10" height="182" fill="#e0c030"/>
 <rect x="842" y="865" width="6" height="182" fill="#e85a20"/>
 <rect x="872" y="865" width="2" height="182" fill="#d8d030"/>
 <rect x="900" y="865" width="2" height="182" fill="#d0d034"/>
 <rect x="908" y="865" width="2" height="182" fill="#d8c830"/>
 <rect x="930" y="865" width="2" height="182" fill="#c8d038"/>
 <polygon points="870,865 876,865 873,887" fill="#e03018"/>
 <polygon points="906,865 912,865 909,887" fill="#e03018"/>
 <polygon points="784,1047 787,1010 790,1047" fill="#e02010"/>
 <polygon points="893,1047 896,1028 899,1047" fill="#e02010"/>
 <ellipse cx="877" cy="952" rx="18" ry="42" fill="url(#gLi2S)"/>
 <ellipse cx="877" cy="952" rx="15" ry="40" fill="none" stroke="#222" stroke-width="1" stroke-dasharray="3,2"/>
</g>
<rect x="755" y="865" width="190" height="182" fill="none" stroke="#444" stroke-width="1"/>
<g stroke="#555" stroke-width="1.5" stroke-dasharray="6,4">
 <line x1="613" y1="901" x2="942" y2="901"/><line x1="613" y1="959" x2="942" y2="959"/><line x1="613" y1="1010" x2="942" y2="1010"/>
</g>
<path d="M614,868 L655,869 C660,870 661,875 662,880 L663,897 C664,902 668,905 671,910 L675,920 L677,933 L677,950 L675,957 L734,958.5 C725,960 715,963 703,967 C698,969 694,972 691,980 L690,1000 L691,1009 C689,1012 684,1015 677,1018 C671,1021 668,1024 665,1029 L662,1035 L660,1040 L658,1047" fill="none" stroke="#e04040" stroke-width="1.2"/>
<text x="700" y="1038" font-size="7.5" fill="#333" text-anchor="middle">S@ZnN<tspan font-size="5.5" baseline-shift="sub">4</tspan>-NC</text>
<text transform="translate(608,921) rotate(-90)" font-size="12" fill="#333" text-anchor="middle">Charge</text>
<text transform="translate(608,1006) rotate(-90)" font-size="12" fill="#333" text-anchor="middle">Discharge</text>
<g font-size="12" fill="#222" text-anchor="middle">
 <text x="618" y="1062">2.8</text><text x="640" y="1062">2.6</text><text x="662" y="1062">2.4</text><text x="683" y="1062">2.2</text><text x="705" y="1062">2.0</text><text x="727" y="1062">1.8</text>
 <text x="758" y="1062">22</text><text x="803" y="1062">24</text><text x="849" y="1062">26</text><text x="894" y="1062">28</text><text x="940" y="1062">30</text>
</g>
<text x="670" y="1077" font-size="12" fill="#222" text-anchor="middle">Voltage (V)</text>
<text x="857" y="1077" font-size="12" fill="#222" text-anchor="middle">2 Theta (degree)</text>
<g font-size="13.5" fill="#222">
 <text x="797" y="942">Be</text>
 <text x="861" y="899">β-S<tspan font-size="9" baseline-shift="sub">8</tspan> β-S<tspan font-size="9" baseline-shift="sub">8</tspan></text>
 <text x="893" y="987">Li<tspan font-size="9" baseline-shift="sub">2</tspan>S</text>
 <text x="767" y="1006">α-S<tspan font-size="9" baseline-shift="sub">8</tspan></text>
 <text x="859" y="1031">α-S<tspan font-size="9" baseline-shift="sub">8</tspan> α-S<tspan font-size="9" baseline-shift="sub">8</tspan></text>
</g>
<rect x="968" y="868" width="12" height="177" fill="url(#gJet)"/>
<text x="975" y="862" font-size="12" fill="#222" text-anchor="middle">High</text>
<text x="975" y="1058" font-size="12" fill="#222" text-anchor="middle">Low</text>
<text transform="translate(996,952) rotate(-90)" font-size="11.5" fill="#333" text-anchor="middle">Intensity (a.u.)</text>
</svg>
</body></html>
